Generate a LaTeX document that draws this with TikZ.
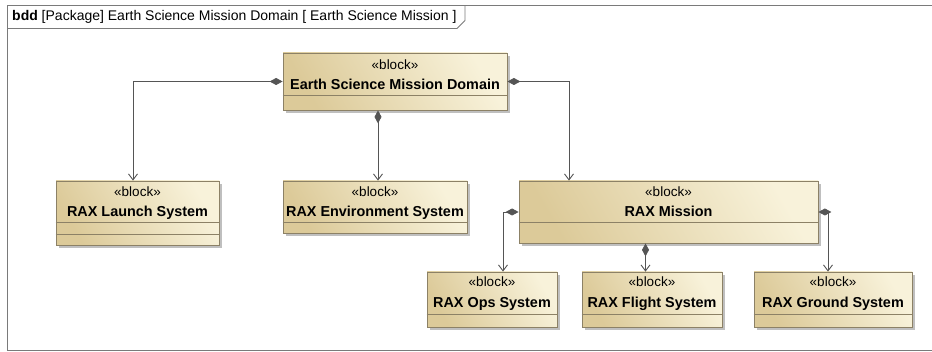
\documentclass[tikz,border=0pt]{standalone}
\usepackage{fontspec}
\setmainfont{Liberation Sans}
\usetikzlibrary{arrows.meta,shadows}
\definecolor{blocklight}{HTML}{F8F2DA}
\definecolor{blockdark}{HTML}{DCCA99}
\definecolor{blockline}{HTML}{8C8166}
\definecolor{wire}{HTML}{555555}
\definecolor{framegray}{HTML}{7A7A7A}

\begin{document}
\begin{tikzpicture}
    [x=1pt,y=-1pt,
     block/.style={rectangle,draw=blockline,line width=0.8pt,inner sep=0pt,
       top color=blocklight,bottom color=blockdark,shading angle=-60,
       drop shadow={shadow xshift=3pt,shadow yshift=-3pt,fill=black,opacity=0.25}},
     stereo/.style={anchor=base,inner sep=0pt,font=\fontsize{13.5}{15}\selectfont},
     bname/.style={anchor=base,inner sep=0pt,font=\fontsize{14.4}{16}\selectfont\bfseries},
     divider/.style={draw=blockline,line width=0.7pt},
     comp/.style={draw=wire,line width=0.9pt,
       {Diamond[length=13pt,width=7pt,fill=wire]}-{Straight Barb[length=6pt,width=9pt]}}]
    \useasboundingbox (0,0) rectangle (932,352);

    \draw[framegray,line width=1.3pt] (932,5.5) -- (7.5,5.5) -- (7.5,350.5) -- (932,350.5);
    \draw[framegray,line width=0.8pt] (7.5,28.5) -- (457,28.5) -- (465,20.5) -- (465,5.5);
    \node[anchor=base west,inner sep=0pt,font=\fontsize{14}{16}\selectfont] (title) at (12,21)
      {\textbf{bdd} [Package] Earth Science Mission Domain [ Earth Science Mission ]};

    \node[block,minimum width=224pt,minimum height=57pt] (esm) at (395,81.5) {};
    \node[stereo] (esm-s) at ([yshift=-17pt]esm.north) {«block»};
    \node[bname] (esm-n) at ([yshift=-37pt]esm.north) {Earth Science Mission Domain};
    \draw[divider] ([yshift=-43pt]esm.north west) -- ([yshift=-43pt]esm.north east);

    \node[block,minimum width=163pt,minimum height=64pt] (launch) at (137.5,213) {};
    \node[stereo] (launch-s) at ([yshift=-16pt]launch.north) {«block»};
    \node[bname] (launch-n) at ([yshift=-36pt]launch.north) {RAX Launch System};
    \draw[divider] ([yshift=-42pt]launch.north west) -- ([yshift=-42pt]launch.north east);
    \draw[divider] ([yshift=-54pt]launch.north west) -- ([yshift=-54pt]launch.north east);

    \node[block,minimum width=184pt,minimum height=52pt] (env) at (375,207) {};
    \node[stereo] (env-s) at ([yshift=-16pt]env.north) {«block»};
    \node[bname] (env-n) at ([yshift=-36pt]env.north) {RAX Environment System};
    \draw[divider] ([yshift=-42pt]env.north west) -- ([yshift=-42pt]env.north east);

    \node[block,minimum width=299pt,minimum height=62pt] (mission) at (668.5,212) {};
    \node[stereo] (mission-s) at ([yshift=-16pt]mission.north) {«block»};
    \node[bname] (mission-n) at ([yshift=-36pt]mission.north) {RAX Mission};
    \draw[divider] ([yshift=-42pt]mission.north west) -- ([yshift=-42pt]mission.north east);

    \node[block,minimum width=130pt,minimum height=55pt] (ops) at (492,299.5) {};
    \node[stereo] (ops-s) at ([yshift=-15pt]ops.north) {«block»};
    \node[bname] (ops-n) at ([yshift=-36pt]ops.north) {RAX Ops System};
    \draw[divider] ([yshift=-43pt]ops.north west) -- ([yshift=-43pt]ops.north east);

    \node[block,minimum width=140pt,minimum height=55pt] (flight) at (652,299.5) {};
    \node[stereo] (flight-s) at ([yshift=-15pt]flight.north) {«block»};
    \node[bname] (flight-n) at ([yshift=-36pt]flight.north) {RAX Flight System};
    \draw[divider] ([yshift=-43pt]flight.north west) -- ([yshift=-43pt]flight.north east);

    \node[block,minimum width=158pt,minimum height=55pt] (ground) at (833,299.5) {};
    \node[stereo] (ground-s) at ([yshift=-15pt]ground.north) {«block»};
    \node[bname] (ground-n) at ([yshift=-36pt]ground.north) {RAX Ground System};
    \draw[divider] ([yshift=-43pt]ground.north west) -- ([yshift=-43pt]ground.north east);

    \draw[comp] (esm.west) -| ([xshift=-4.5pt]launch.north);
    \draw[comp] ([xshift=-17pt]esm.south) -- ([xshift=3pt]env.north);
    \draw[comp] (esm.east) -| ([xshift=-99.5pt]mission.north);
    \draw[comp] (mission.west) -| ([xshift=11pt]ops.north);
    \draw[comp] ([xshift=-23pt]mission.south) -- ([xshift=-6.5pt]flight.north);
    \draw[comp] (mission.east) -| ([xshift=-5pt]ground.north);
  \end{tikzpicture}
\end{document}
